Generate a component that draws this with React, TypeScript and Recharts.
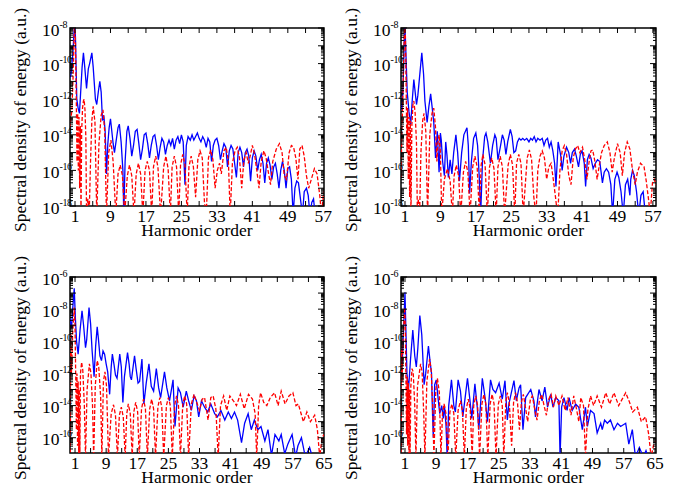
import { LineChart, Line, XAxis, YAxis, ReferenceArea } from "recharts";

// Harmonic spectra, four panels. Values are [harmonic order, log10(spectral density)],
// read off the reference figure. Solid blue and dashed red curves in each panel.

const P1_BLUE: [number, number][] = [
  [-0.13, -10.8], [0.1, -10.6], [0.5, -9.5], [0.9, -7.6], [1.1, -8.5], [1.4, -12.0], [1.7, -12.5], [2.0, -12.8],
  [2.3, -11.5], [2.6, -10.2], [2.9, -9.4], [3.2, -10.2], [3.6, -11.4], [4.0, -10.3], [4.3, -10.0], [4.8, -9.4],
  [5.1, -10.2], [5.6, -12.0], [5.9, -12.3], [6.3, -11.5], [6.6, -11.0], [6.9, -11.6], [7.2, -13.2], [7.5, -12.9],
  [7.8, -13.8], [8.1, -16.2], [8.4, -14.5], [8.7, -13.6], [9.0, -13.1], [9.3, -13.8], [9.6, -14.5], [9.9, -15.0],
  [10.3, -14.3], [10.7, -13.6], [11.0, -13.4], [11.4, -14.4], [11.8, -16.0], [12.0, -18.5], [12.3, -15.5], [12.7, -13.8],
  [13.0, -13.5], [13.4, -14.2], [13.8, -15.2], [14.2, -14.6], [14.6, -13.8], [15.0, -13.7], [15.4, -14.5], [15.8, -15.4],
  [16.2, -14.8], [16.6, -14.0], [17.0, -13.9], [17.4, -14.5], [17.8, -15.3], [18.2, -14.6], [18.6, -14.1], [19.0, -14.0],
  [19.4, -14.6], [19.8, -15.4], [20.2, -14.7], [20.6, -14.2], [21.0, -14.4], [21.4, -15.1], [21.8, -14.6], [22.2, -14.3],
  [22.6, -14.6], [23.0, -14.2], [23.4, -14.8], [23.8, -14.3], [24.2, -14.1], [24.6, -14.5], [25.0, -14.0], [25.4, -14.4],
  [25.8, -16.8], [26.1, -14.6], [26.5, -14.1], [27.0, -14.3], [27.4, -14.0], [27.8, -14.3], [28.2, -14.1], [28.6, -13.9],
  [29.0, -14.2], [29.4, -14.4], [29.8, -14.1], [30.2, -14.3], [30.6, -14.7], [31.0, -14.2], [31.4, -14.4], [31.8, -15.5],
  [32.2, -14.6], [32.6, -14.3], [33.0, -14.2], [33.4, -14.6], [33.8, -15.4], [34.2, -14.9], [34.6, -14.5], [35.0, -14.7],
  [35.4, -15.8], [35.8, -14.9], [36.2, -14.6], [36.6, -14.8], [37.0, -15.6], [37.4, -16.4], [37.8, -15.0], [38.2, -14.7],
  [38.6, -15.0], [39.0, -15.8], [39.4, -15.0], [39.8, -14.8], [40.2, -15.2], [40.6, -16.6], [41.0, -15.3], [41.4, -14.9],
  [41.8, -15.2], [42.2, -16.0], [42.6, -15.4], [43.0, -15.1], [43.4, -15.6], [43.8, -16.7], [44.2, -15.6], [44.6, -15.3],
  [45.0, -15.7], [45.4, -16.5], [45.8, -15.8], [46.2, -15.6], [46.6, -16.2], [47.0, -17.0], [47.4, -16.0], [47.8, -15.5],
  [48.2, -16.0], [48.6, -17.0], [49.0, -15.9], [49.4, -15.8], [49.8, -16.5], [50.2, -18.5], [50.6, -17.0], [51.0, -16.6],
  [51.4, -16.7], [51.8, -17.5], [52.3, -18.5], [52.7, -17.2], [53.2, -17.0], [53.6, -17.4], [54.0, -18.5], [54.4, -17.8],
  [54.8, -17.6], [55.2, -18.6],
];

const P1_RED: [number, number][] = [
  [-0.13, -13.6], [0.3, -12.6], [0.6, -10.5], [0.9, -7.5], [1.1, -8.8], [1.3, -12.2], [1.45, -15.5], [1.6, -12.8],
  [1.75, -16.0], [1.9, -13.0], [2.05, -17.0], [2.2, -13.5], [2.35, -18.5], [2.5, -13.8], [2.7, -12.5], [2.9, -12.1],
  [3.05, -12.0], [3.25, -12.6], [3.45, -14.2], [3.6, -18.5], [3.9, -17.6], [4.2, -18.5], [4.5, -15.5], [4.8, -13.2],
  [5.1, -12.4], [5.5, -13.3], [5.9, -18.5], [6.4, -14.5], [6.9, -12.9], [7.3, -12.6], [7.7, -13.8], [8.1, -18.5],
  [8.6, -15.0], [9.1, -14.3], [9.6, -15.5], [10.2, -18.5], [10.7, -16.2], [11.2, -15.7], [11.7, -16.3], [12.2, -18.5],
  [12.8, -16.3], [13.3, -15.7], [13.8, -16.3], [14.3, -18.5], [14.8, -16.2], [15.3, -15.6], [15.8, -16.2], [16.3, -18.5],
  [16.8, -16.0], [17.3, -15.5], [17.8, -16.0], [18.3, -18.5], [18.7, -15.8], [19.2, -15.2], [19.7, -15.8], [20.3, -18.5],
  [21.0, -15.8], [21.5, -15.2], [22.0, -15.9], [22.5, -18.5], [22.9, -15.8], [23.4, -15.2], [23.9, -15.8], [24.4, -18.5],
  [24.8, -15.7], [25.3, -15.1], [25.8, -15.7], [26.3, -18.5], [26.7, -15.8], [27.2, -15.2], [27.7, -15.8], [28.2, -17.5],
  [28.7, -15.4], [29.2, -14.9], [29.7, -15.3], [30.2, -17.8], [30.6, -18.5], [31.1, -15.3], [31.6, -14.85], [32.1, -15.4],
  [32.6, -17.0], [33.1, -16.0], [33.6, -15.6], [34.0, -16.2], [34.6, -14.9], [35.1, -14.7], [35.6, -15.5], [36.0, -18.5],
  [36.5, -15.6], [37.1, -14.9], [37.6, -14.7], [38.1, -15.3], [38.6, -17.0], [39.1, -15.4], [39.6, -15.0], [40.1, -15.6],
  [40.5, -15.2], [41.0, -14.6], [41.5, -15.1], [42.0, -16.0], [42.5, -17.0], [43.0, -15.5], [43.6, -14.9], [44.1, -15.3],
  [44.6, -16.1], [45.1, -16.8], [45.6, -15.5], [46.4, -14.8], [47.1, -14.5], [47.7, -15.0], [48.2, -16.3], [48.7, -16.5],
  [49.3, -15.0], [49.8, -14.6], [50.3, -14.7], [50.8, -15.3], [51.3, -16.5], [51.7, -14.8], [52.2, -14.6], [52.7, -15.2],
  [53.2, -16.3], [53.7, -17.0], [54.3, -16.5], [55.0, -15.9], [55.6, -16.2], [56.2, -17.4], [56.6, -18.5], [57.0, -17.4],
  [57.4, -17.0],
];

const P2_BLUE: [number, number][] = [
  [0.0, -12.2], [0.3, -12.6], [0.6, -11.0], [0.95, -7.6], [1.15, -9.0], [1.5, -11.6], [1.9, -12.7], [2.3, -13.4],
  [2.6, -12.2], [3.0, -10.9], [3.3, -11.6], [3.6, -12.3], [3.9, -11.8], [4.2, -11.0], [4.8, -9.4], [5.2, -10.6],
  [5.5, -12.1], [6.0, -13.3], [6.4, -12.4], [6.8, -11.7], [7.2, -12.6], [7.5, -13.3], [7.9, -15.3], [8.3, -13.8],
  [8.7, -16.1], [9.0, -13.9], [9.2, -14.3], [9.5, -15.5], [9.9, -16.3], [10.2, -14.4], [10.5, -15.2], [10.8, -16.4],
  [11.2, -15.4], [11.6, -16.2], [12.0, -15.0], [12.5, -14.0], [12.9, -15.0], [13.3, -16.6], [13.8, -15.0], [14.3, -14.0],
  [15.0, -13.6], [15.3, -14.6], [15.6, -17.3], [16.0, -15.5], [16.5, -14.2], [17.0, -13.9], [17.4, -14.6], [17.8, -16.5],
  [18.1, -18.5], [18.5, -15.5], [19.0, -14.1], [19.3, -13.9], [19.7, -14.4], [20.3, -15.6], [20.8, -14.6], [21.3, -14.0],
  [21.6, -14.2], [22.0, -15.4], [22.6, -14.6], [23.0, -14.0], [23.4, -14.3], [23.8, -15.1], [24.2, -14.4], [24.8, -13.7],
  [25.2, -14.1], [25.6, -15.0], [26.0, -14.9], [26.4, -14.4], [26.8, -14.2], [27.2, -14.3], [27.6, -14.2], [28.0, -14.3],
  [28.5, -14.2], [29.0, -14.4], [29.4, -14.2], [29.8, -14.3], [30.2, -14.1], [30.6, -14.4], [31.0, -14.2], [31.5, -14.3],
  [32.0, -14.2], [32.4, -14.6], [32.8, -14.3], [33.2, -14.2], [33.6, -14.7], [34.0, -14.4], [34.4, -14.9], [34.8, -15.6],
  [35.1, -16.9], [35.6, -14.4], [36.2, -15.2], [36.5, -16.0], [36.9, -15.2], [37.5, -14.7], [38.0, -15.0], [38.4, -15.6],
  [38.8, -15.0], [39.3, -14.8], [39.7, -15.2], [40.2, -15.8], [40.6, -15.1], [41.0, -14.9], [41.5, -15.6], [41.8, -16.9],
  [42.2, -15.4], [42.6, -15.1], [43.0, -15.3], [43.5, -15.9], [44.0, -15.6], [44.5, -15.4], [45.0, -15.5], [45.6, -16.7],
  [46.0, -16.1], [46.5, -15.9], [47.0, -16.1], [47.5, -16.8], [47.9, -18.5], [48.4, -16.5], [48.9, -16.1], [49.3, -16.4],
  [49.8, -17.2], [50.3, -18.5], [50.8, -16.8], [51.3, -16.5], [51.8, -17.4], [52.0, -16.5], [52.4, -16.0], [52.8, -16.3],
  [53.3, -17.2], [53.8, -18.5], [54.3, -17.4], [54.8, -17.2], [55.3, -18.5],
];

const P2_RED: [number, number][] = [
  [0.1, -16.4], [0.3, -14.0], [0.6, -11.0], [0.9, -7.5], [1.1, -8.5], [1.3, -12.0], [1.45, -15.0], [1.6, -12.5],
  [1.75, -16.5], [1.9, -13.0], [2.05, -17.5], [2.2, -13.2], [2.35, -18.5], [2.55, -13.5], [2.8, -12.3], [3.0, -12.1],
  [3.3, -12.8], [3.6, -14.5], [3.8, -18.5], [4.0, -17.6], [4.3, -18.5], [4.6, -15.0], [5.0, -13.2], [5.3, -12.8],
  [5.7, -13.8], [6.1, -18.5], [6.6, -14.0], [7.1, -12.8], [7.5, -12.5], [7.9, -13.6], [8.2, -15.5], [8.5, -14.3],
  [8.7, -14.0], [9.0, -15.0], [9.3, -18.5], [9.9, -16.5], [10.6, -15.9], [11.2, -16.6], [11.7, -18.5], [12.1, -16.3],
  [12.6, -15.7], [13.1, -16.3], [13.6, -18.5], [14.2, -16.1], [14.7, -15.5], [15.2, -16.1], [15.7, -18.5], [16.3, -15.8],
  [16.8, -15.2], [17.3, -15.8], [17.8, -18.5], [18.2, -15.7], [18.6, -15.1], [19.1, -15.7], [19.6, -18.5], [20.1, -15.8],
  [20.6, -15.3], [21.1, -15.9], [21.6, -18.5], [22.0, -15.8], [22.5, -15.2], [23.0, -15.8], [23.5, -18.5], [24.3, -15.7],
  [24.8, -15.1], [25.3, -15.7], [25.8, -18.5], [26.2, -15.6], [26.7, -15.1], [27.2, -15.6], [27.7, -18.5], [28.6, -15.3],
  [29.1, -14.85], [29.6, -15.4], [30.1, -17.5], [30.6, -18.5], [31.0, -16.0], [31.5, -15.2], [32.0, -14.9], [32.5, -15.3],
  [33.0, -16.5], [33.5, -15.8], [34.0, -15.6], [34.5, -16.5], [35.0, -17.5], [35.5, -18.6], [36.0, -16.0], [36.5, -14.9],
  [37.0, -14.6], [37.5, -15.1], [38.0, -16.3], [38.5, -16.8], [39.0, -15.3], [39.5, -14.8], [40.0, -14.6], [40.5, -15.0],
  [41.1, -14.7], [41.6, -15.4], [42.1, -16.5], [42.6, -15.5], [43.0, -14.9], [43.4, -14.85], [43.9, -15.5], [44.4, -16.5],
  [44.9, -15.7], [45.4, -15.0], [46.0, -14.6], [46.7, -14.4], [47.3, -15.0], [47.8, -16.1], [48.3, -15.3], [49.0, -14.5],
  [49.6, -15.0], [50.1, -16.3], [50.6, -15.0], [51.2, -14.4], [51.8, -14.8], [52.4, -16.0], [53.0, -16.8], [53.5, -16.1],
  [54.2, -15.6], [55.0, -15.8], [55.5, -16.6], [56.0, -17.6], [56.4, -18.5], [56.9, -16.7], [57.3, -16.5], [57.7, -16.8],
];

const P3_BLUE: [number, number][] = [
  [-0.29, -8.6], [0.1, -9.2], [0.4, -8.0], [0.8, -6.7], [1.1, -8.6], [1.4, -10.0], [1.8, -10.8], [2.3, -9.3],
  [2.8, -8.1], [3.2, -9.0], [3.7, -10.4], [4.0, -9.9], [4.6, -7.9], [5.0, -8.9], [5.4, -10.6], [5.9, -12.2],
  [6.3, -10.3], [6.7, -9.1], [7.0, -9.8], [7.4, -10.9], [7.8, -11.2], [8.2, -10.6], [8.6, -10.8], [9.0, -11.4],
  [9.4, -11.9], [9.9, -13.3], [10.3, -11.6], [10.6, -10.8], [11.0, -11.4], [11.4, -12.1], [11.8, -12.3], [12.5, -10.8],
  [12.9, -11.6], [13.3, -13.8], [13.7, -12.2], [14.5, -10.7], [14.9, -11.4], [15.2, -12.2], [15.5, -12.4], [16.3, -10.9],
  [16.7, -11.7], [17.2, -12.6], [17.6, -12.5], [18.2, -11.1], [18.7, -13.9], [19.3, -12.6], [20.0, -11.4], [20.6, -12.8],
  [21.2, -13.1], [21.9, -11.7], [22.5, -12.9], [23.0, -13.5], [24.0, -11.9], [24.6, -12.9], [25.3, -13.7], [26.2, -12.4],
  [26.7, -15.3], [27.5, -12.9], [28.1, -13.2], [28.8, -14.1], [29.6, -13.1], [30.2, -13.7], [30.9, -14.3], [31.6, -13.4],
  [32.2, -13.7], [32.8, -14.7], [33.5, -13.7], [34.3, -14.1], [35.1, -14.4], [35.9, -13.9], [36.9, -14.5], [37.6, -14.7],
  [38.5, -14.3], [39.5, -14.9], [40.4, -14.4], [41.2, -14.8], [42.0, -14.4], [42.8, -14.9], [43.8, -16.3], [44.6, -15.1],
  [45.5, -14.5], [46.3, -15.5], [47.1, -14.9], [48.0, -15.5], [48.8, -15.3], [49.8, -16.2], [50.6, -15.5], [51.5, -17.1],
  [52.4, -15.8], [53.4, -16.2], [54.0, -15.8], [54.9, -17.0], [55.7, -16.4], [56.8, -15.8], [57.7, -17.2], [58.3, -16.5],
  [59.2, -16.0], [60.2, -17.2], [61.3, -16.6], [62.0, -17.2],
];

const P3_RED: [number, number][] = [
  [-0.2, -16.9], [-0.1, -9.5], [0.1, -12.0], [0.4, -9.5], [0.8, -7.9], [1.0, -9.0], [1.2, -12.5], [1.35, -15.5],
  [1.5, -12.0], [1.65, -16.5], [1.8, -12.5], [1.95, -17.0], [2.1, -13.0], [2.25, -17.2], [2.4, -12.0], [2.7, -11.3],
  [3.0, -11.8], [3.4, -14.0], [3.7, -17.2], [4.1, -13.0], [4.7, -11.4], [5.1, -12.0], [5.5, -14.0], [5.8, -17.2],
  [6.2, -12.8], [6.7, -11.2], [7.1, -11.6], [7.6, -13.5], [7.9, -17.2], [8.3, -12.5], [8.7, -11.9], [9.1, -12.8],
  [9.6, -17.2], [10.3, -14.5], [10.9, -13.95], [11.4, -14.6], [11.9, -17.2], [12.4, -14.6], [12.9, -14.1], [13.4, -14.7],
  [13.9, -17.2], [14.3, -14.5], [14.7, -13.9], [15.2, -14.5], [15.7, -17.2], [16.1, -14.4], [16.6, -13.8], [17.1, -14.4],
  [17.5, -17.2], [18.1, -14.2], [18.6, -13.6], [19.1, -14.2], [19.6, -17.2], [20.2, -14.2], [20.7, -13.6], [21.2, -14.2],
  [21.7, -17.2], [22.3, -14.1], [22.8, -13.5], [23.3, -14.1], [23.8, -17.2], [24.5, -14.0], [25.0, -13.5], [25.5, -14.0],
  [26.0, -17.2], [26.6, -14.0], [27.1, -13.4], [27.6, -14.0], [28.1, -17.2], [28.7, -13.9], [29.2, -13.4], [29.7, -13.9],
  [30.2, -17.2], [30.9, -13.9], [31.6, -13.3], [32.3, -13.8], [33.0, -14.3], [33.7, -13.6], [34.3, -13.5], [35.2, -14.9],
  [35.9, -13.5], [36.5, -13.4], [37.2, -14.2], [37.8, -17.2], [38.4, -14.0], [39.2, -13.4], [40.0, -14.3], [40.8, -13.4],
  [41.7, -13.7], [42.5, -14.0], [43.5, -13.3], [44.5, -14.2], [45.6, -13.3], [46.6, -13.6], [47.3, -14.5], [47.7, -17.2],
  [48.2, -14.0], [48.7, -13.2], [49.5, -13.8], [50.3, -14.0], [51.2, -13.5], [52.3, -13.2], [53.2, -14.0], [54.0, -13.1],
  [55.0, -13.9], [56.0, -13.4], [57.0, -13.2], [57.8, -14.0], [58.4, -13.9], [59.7, -15.0], [60.6, -14.4], [61.5, -15.0],
  [62.6, -14.6], [63.3, -15.5], [63.9, -17.2], [64.5, -16.0], [65.0, -15.8],
];

const P4_BLUE: [number, number][] = [
  [0.0, -11.8], [0.3, -11.3], [0.6, -9.5], [1.0, -6.95], [1.2, -9.0], [1.5, -12.0], [1.9, -13.0], [2.4, -11.2],
  [3.0, -9.3], [3.5, -10.9], [3.9, -11.6], [4.3, -10.4], [4.8, -8.4], [5.3, -9.6], [5.9, -12.7], [6.3, -12.0],
  [7.0, -10.3], [7.4, -11.2], [7.8, -12.0], [8.0, -14.1], [8.25, -16.0], [8.6, -12.7], [9.0, -12.4], [9.5, -13.6],
  [9.9, -14.5], [10.4, -14.0], [10.8, -14.8], [11.1, -14.0], [11.5, -15.2], [11.8, -17.2], [12.2, -14.0], [12.9, -12.4],
  [13.5, -14.0], [13.9, -14.4], [14.6, -12.4], [15.2, -13.1], [15.8, -14.7], [16.4, -13.5], [17.0, -12.3], [17.6, -13.6],
  [18.1, -14.8], [18.9, -12.65], [19.5, -14.1], [19.9, -15.5], [20.8, -12.3], [21.5, -13.5], [22.1, -15.0], [22.9, -12.4],
  [23.5, -13.0], [24.2, -13.2], [25.1, -12.6], [25.9, -13.6], [26.6, -12.45], [27.2, -14.9], [27.6, -13.9], [28.9, -12.45],
  [29.5, -13.7], [30.2, -12.9], [30.6, -12.7], [31.2, -15.5], [31.9, -13.5], [33.2, -13.0], [34.0, -13.7], [34.4, -14.7],
  [35.3, -13.0], [36.1, -13.7], [36.8, -12.85], [37.5, -14.1], [38.3, -13.3], [38.9, -14.1], [39.6, -13.5], [40.4, -13.7],
  [40.7, -17.2], [41.1, -14.1], [41.7, -13.5], [42.5, -14.3], [43.0, -13.5], [43.8, -14.3], [44.7, -13.9], [45.5, -14.1],
  [46.4, -15.5], [47.2, -14.1], [47.7, -15.3], [48.5, -14.3], [49.4, -14.5], [50.2, -15.7], [51.1, -15.1], [51.5, -15.5],
  [52.1, -14.9], [52.8, -15.1], [53.6, -14.9], [54.5, -15.5], [55.4, -15.1], [56.2, -15.3], [57.5, -15.1], [58.3, -16.4],
  [59.2, -15.5], [60.0, -17.2], [61.0, -16.6], [62.0, -17.2], [62.7, -16.8], [63.2, -17.2],
];

const P4_RED: [number, number][] = [
  [0.0, -16.9], [0.1, -10.5], [0.25, -12.5], [0.5, -10.0], [0.9, -7.9], [1.1, -9.2], [1.25, -12.5], [1.4, -15.8],
  [1.55, -12.2], [1.7, -16.5], [1.85, -12.6], [2.0, -17.2], [2.15, -13.0], [2.3, -17.2], [2.5, -12.8], [2.8, -11.7],
  [3.1, -11.9], [3.5, -14.0], [3.8, -17.2], [4.2, -12.8], [5.0, -11.4], [5.4, -12.0], [5.8, -14.5], [6.1, -17.2],
  [6.6, -12.5], [7.3, -11.1], [7.7, -11.8], [8.1, -14.0], [8.4, -17.2], [8.9, -13.0], [9.3, -12.3], [9.8, -13.2],
  [10.2, -17.2], [10.6, -14.5], [11.0, -13.9], [11.5, -14.5], [12.0, -17.2], [12.5, -14.4], [13.0, -13.9], [13.5, -14.5],
  [14.0, -17.2], [14.6, -14.3], [15.2, -13.7], [15.7, -14.3], [16.2, -17.2], [16.7, -14.2], [17.2, -13.6], [17.7, -14.2],
  [18.2, -17.2], [18.6, -14.0], [19.1, -13.4], [19.6, -14.0], [20.1, -17.2], [20.7, -13.9], [21.2, -13.3], [21.7, -13.9],
  [22.2, -17.2], [22.8, -13.9], [23.3, -13.3], [23.8, -13.9], [24.3, -17.2], [24.9, -13.9], [25.4, -13.4], [25.9, -14.0],
  [26.3, -17.2], [26.8, -13.8], [27.2, -13.2], [27.7, -13.8], [28.3, -16.5], [28.8, -13.8], [29.3, -13.2], [29.8, -13.8],
  [30.3, -15.5], [30.8, -13.8], [31.3, -13.3], [31.9, -14.2], [32.4, -15.0], [33.1, -13.6], [33.6, -13.4], [34.2, -14.2],
  [34.8, -14.9], [35.4, -13.7], [36.0, -13.3], [36.6, -14.0], [37.2, -14.6], [37.8, -13.6], [38.4, -13.3], [39.0, -14.1],
  [39.6, -13.4], [40.4, -14.0], [41.2, -13.4], [42.0, -14.3], [42.7, -13.5], [43.5, -14.6], [44.2, -13.4], [44.9, -14.2],
  [45.5, -15.0], [46.0, -13.5], [46.7, -14.0], [47.2, -17.2], [47.8, -14.3], [48.5, -13.4], [49.3, -14.0], [50.2, -13.4],
  [51.3, -14.1], [52.4, -13.2], [53.4, -13.9], [54.5, -13.2], [55.7, -14.0], [56.6, -13.6], [57.5, -13.2], [58.5, -13.8],
  [59.3, -14.4], [60.5, -14.1], [61.5, -15.0], [62.6, -14.7], [63.4, -15.8], [64.0, -17.2], [64.6, -16.5], [65.2, -16.2],
];

const FONT = "Liberation Serif, Times New Roman, Tinos, DejaVu Serif, serif";
const BLUE = "#0000ff";
const RED = "#ff0000";
const TXT = { fontFamily: FONT, fontSize: 17.5, fill: "#000" };

type Panel = {
  left: number;
  top: number;
  height: number;
  marginTop: number;
  marginRight: number;
  yAxisWidth: number;
  xAxisHeight: number;
  xDomain: [number, number];
  yDomain: [number, number];
  xMax: number;
  plotW: number;
  plotH: number;
  blue: [number, number][];
  red: [number, number][];
};

const PANELS: Panel[] = [
  { left: 0, top: 0, height: 245, marginTop: 28, marginRight: 17, yAxisWidth: 70, xAxisHeight: 39,
    xDomain: [-0.13, 57.16], yDomain: [-18, -8], xMax: 57, plotW: 254, plotH: 178, blue: P1_BLUE, red: P1_RED },
  { left: 341, top: 0, height: 245, marginTop: 28, marginRight: 26, yAxisWidth: 60, xAxisHeight: 39,
    xDomain: [0.1, 57.7], yDomain: [-18, -8], xMax: 57, plotW: 255, plotH: 178, blue: P2_BLUE, red: P2_RED },
  { left: 0, top: 245, height: 246, marginTop: 32, marginRight: 17, yAxisWidth: 70, xAxisHeight: 38,
    xDomain: [-0.29, 65], yDomain: [-16.95, -6], xMax: 65, plotW: 254, plotH: 176, blue: P3_BLUE, red: P3_RED },
  { left: 341, top: 245, height: 246, marginTop: 32, marginRight: 26, yAxisWidth: 60, xAxisHeight: 38,
    xDomain: [-0.02, 65.26], yDomain: [-16.95, -6], xMax: 65, plotW: 255, plotH: 176, blue: P4_BLUE, red: P4_RED },
];

// log-axis tick positions: decades plus the 2..9 minor marks inside the domain
function logTicks([lo, hi]: [number, number]) {
  const out: number[] = [];
  for (let n = Math.floor(lo); n <= Math.ceil(hi); n++) {
    for (let k = 1; k <= 9; k++) {
      const v = n + Math.log10(k);
      if (v >= lo - 1e-9 && v <= hi + 1e-9) out.push(v);
    }
  }
  return out;
}

function harmonicTicks(max: number) {
  const out: number[] = [];
  for (let h = 1; h <= max; h += 4) out.push(h);
  return out;
}

function makeYTick(plotW: number) {
  return function YTick({ x, y, payload }: any) {
    const v = payload.value as number;
    const n = Math.round(v);
    const major = Math.abs(v - n) < 1e-6;
    const len = major ? 6 : 3;
    return (
      <g>
        <line x1={x} x2={x + len} y1={y} y2={y} stroke="#000" strokeWidth={1} />
        <line x1={x + plotW} x2={x + plotW - len} y1={y} y2={y} stroke="#000" strokeWidth={1} />
        {major && n % 2 === 0 && (
          <text x={x - 28} y={y + 7.5} style={TXT}>
            10
            <tspan dy={-8} style={{ fontSize: 10, letterSpacing: -0.4 }}>
              {String(n)}
            </tspan>
          </text>
        )}
      </g>
    );
  };
}

function makeXTick(plotH: number) {
  return function XTick({ x, y, payload }: any) {
    const v = payload.value as number;
    return (
      <g>
        <line x1={x} x2={x} y1={y} y2={y - 5} stroke="#000" strokeWidth={1} />
        <line x1={x} x2={x} y1={y - plotH} y2={y - plotH + 5} stroke="#000" strokeWidth={1} />
        {(v - 1) % 8 === 0 && (
          <text x={x} y={y + 16} textAnchor="middle" style={TXT}>
            {v}
          </text>
        )}
      </g>
    );
  };
}

function YLabel({ viewBox }: any) {
  const cx = viewBox.x + viewBox.width - 50;
  const cy = viewBox.y + viewBox.height / 2 + 3;
  return (
    <text
      x={cx}
      y={cy}
      transform={`rotate(-90 ${cx} ${cy})`}
      textAnchor="middle"
      dominantBaseline="central"
      style={TXT}
    >
      Spectral density of energy (a.u.)
    </text>
  );
}

function XLabel({ viewBox }: any) {
  return (
    <text x={viewBox.x + viewBox.width / 2} y={viewBox.y + 30} textAnchor="middle" style={TXT}>
      Harmonic order
    </text>
  );
}

function SpectrumPanel({ p }: { p: Panel }) {
  const blue = p.blue.map(([h, e]) => ({ h, e }));
  const red = p.red.map(([h, e]) => ({ h, e }));
  return (
    <div style={{ position: "absolute", left: p.left, top: p.top }}>
      <LineChart
        width={341}
        height={p.height}
        margin={{ top: p.marginTop, right: p.marginRight, bottom: 0, left: 0 }}
      >
        <XAxis
          dataKey="h"
          type="number"
          domain={p.xDomain}
          allowDataOverflow
          ticks={harmonicTicks(p.xMax)}
          interval={0}
          height={p.xAxisHeight}
          axisLine={false}
          tickLine={false}
          tickSize={0}
          tickMargin={0}
          tick={makeXTick(p.plotH)}
          label={{ content: XLabel }}
        />
        <YAxis
          type="number"
          domain={p.yDomain}
          allowDataOverflow
          ticks={logTicks(p.yDomain)}
          interval={0}
          width={p.yAxisWidth}
          axisLine={false}
          tickLine={false}
          tickSize={0}
          tickMargin={0}
          tick={makeYTick(p.plotW)}
          label={{ content: YLabel }}
        />
        <Line
          data={blue}
          dataKey="e"
          type="linear"
          stroke={BLUE}
          strokeWidth={1.3}
          dot={false}
          activeDot={false}
          isAnimationActive={false}
        />
        <Line
          data={red}
          dataKey="e"
          type="linear"
          stroke={RED}
          strokeWidth={1.3}
          strokeDasharray="4 2"
          dot={false}
          activeDot={false}
          isAnimationActive={false}
        />
        <ReferenceArea
          x1={p.xDomain[0]}
          x2={p.xDomain[1]}
          y1={p.yDomain[0]}
          y2={p.yDomain[1]}
          fill="none"
          stroke="#000"
          strokeWidth={1.5}
        />
      </LineChart>
    </div>
  );
}

export default function App() {
  return (
    <div
      style={{
        position: "absolute",
        left: 0,
        top: 0,
        width: 682,
        height: 491,
        background: "#fff",
        fontFamily: FONT,
      }}
    >
      {PANELS.map((p, i) => (
        <SpectrumPanel key={i} p={p} />
      ))}
    </div>
  );
}
